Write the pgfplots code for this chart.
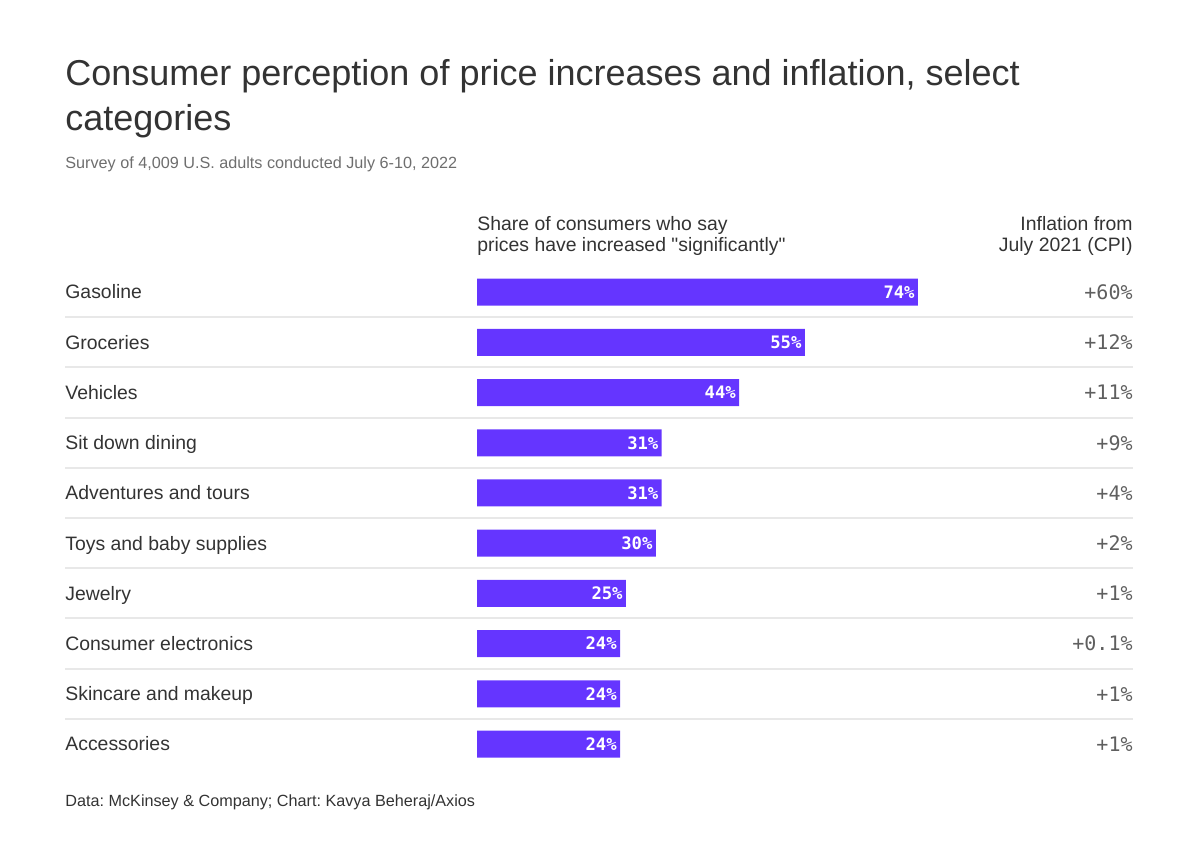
\documentclass[border=0pt]{standalone}
\usepackage{pgfplots}
\pgfplotsset{compat=1.18}
\usepackage{fontspec}
\setmainfont{Liberation Sans}
\newfontfamily\monofont{DejaVu Sans Mono}
\frenchspacing

\definecolor{barpurple}{RGB}{101,53,255}
\definecolor{titlegray}{RGB}{51,51,51}
\definecolor{subgray}{RGB}{110,110,110}
\definecolor{rulegray}{RGB}{232,232,232}
\definecolor{valgray}{RGB}{95,95,95}

\begin{document}
% 1 unit = 1 px of the reference (0.5pt), y runs downwards
\begin{tikzpicture}[x=0.5pt,y=-0.5pt]
\path[use as bounding box] (0,0) rectangle (1200,866);

% titles
\node[anchor=base west, inner sep=0, text=titlegray, font=\fontsize{18}{22}\selectfont] at (65,86)
  {Consumer perception of price increases and inflation, select};
\node[anchor=base west, inner sep=0, text=titlegray, font=\fontsize{18}{22}\selectfont] at (65,131)
  {categories};
\node[anchor=base west, inner sep=0, text=subgray, font=\fontsize{8.1}{10}\selectfont] at (65,169)
  {Survey of 4,009 U.S. adults conducted July 6-10, 2022};

% column headers
\node[anchor=base west, inner sep=0, text=titlegray, font=\fontsize{9.7}{11}\selectfont] at (477,231)
  {Share of consumers who say};
\node[anchor=base west, inner sep=0, text=titlegray, font=\fontsize{9.7}{11}\selectfont] at (477,252)
  {prices have increased \textquotedbl significantly\textquotedbl};
\node[anchor=base east, inner sep=0, text=titlegray, font=\fontsize{9.7}{11}\selectfont] at (1133,231)
  {Inflation from};
\node[anchor=base east, inner sep=0, text=titlegray, font=\fontsize{9.7}{11}\selectfont] at (1133,252)
  {July 2021 (CPI)};

% row separators
\foreach \k in {0,...,8}
  \draw[rulegray, line width=1pt] (65,{317.1+50.2*\k}) -- (1133,{317.1+50.2*\k});

% category names and CPI change
\foreach \lab/\val [count=\i from 0] in {
    Gasoline/+60\%,
    Groceries/+12\%,
    Vehicles/+11\%,
    Sit down dining/+9\%,
    Adventures and tours/+4\%,
    Toys and baby supplies/+2\%,
    Jewelry/+1\%,
    Consumer electronics/+0.1\%,
    Skincare and makeup/+1\%,
    Accessories/+1\%} {
  \node[anchor=base west, inner sep=0, text=titlegray, font=\fontsize{9.7}{11}\selectfont]
    at (65,{299+50.2*\i}) {\lab};
  \node[anchor=base east, inner sep=0, text=valgray, font=\fontsize{10}{12}\monofont]
    at (1133,{299.5+50.2*\i}) {\val};
}

% footer
\node[anchor=base west, inner sep=0, text=titlegray, font=\fontsize{8.1}{10}\selectfont] at (65,806)
  {Data: McKinsey \& Company; Chart: Kavya Beheraj/Axios};

\begin{axis}[
    at={(238.5pt,-384.55pt)}, anchor=south west,
    scale only axis,
    width=220.5pt, height=251pt,
    xmin=0, xmax=74,
    ymin=-0.5, ymax=9.5,
    hide axis,
    clip=false,
]
\addplot[xbar, fill=barpurple, draw=none, bar width=13.5pt,
    point meta=x,
    /pgf/number format/assume math mode=true,
    nodes near coords={\pgfmathprintnumber{\pgfplotspointmeta}\%},
    every node near coord/.append style={anchor=east, xshift=-1.5pt, inner sep=0,
        text=white, font=\fontsize{8.6}{10}\monofont\bfseries}]
coordinates {
    (74,9) (55,8) (44,7) (31,6) (31,5)
    (30,4) (25,3) (24,2) (24,1) (24,0)
};
\end{axis}
\end{tikzpicture}
\end{document}
